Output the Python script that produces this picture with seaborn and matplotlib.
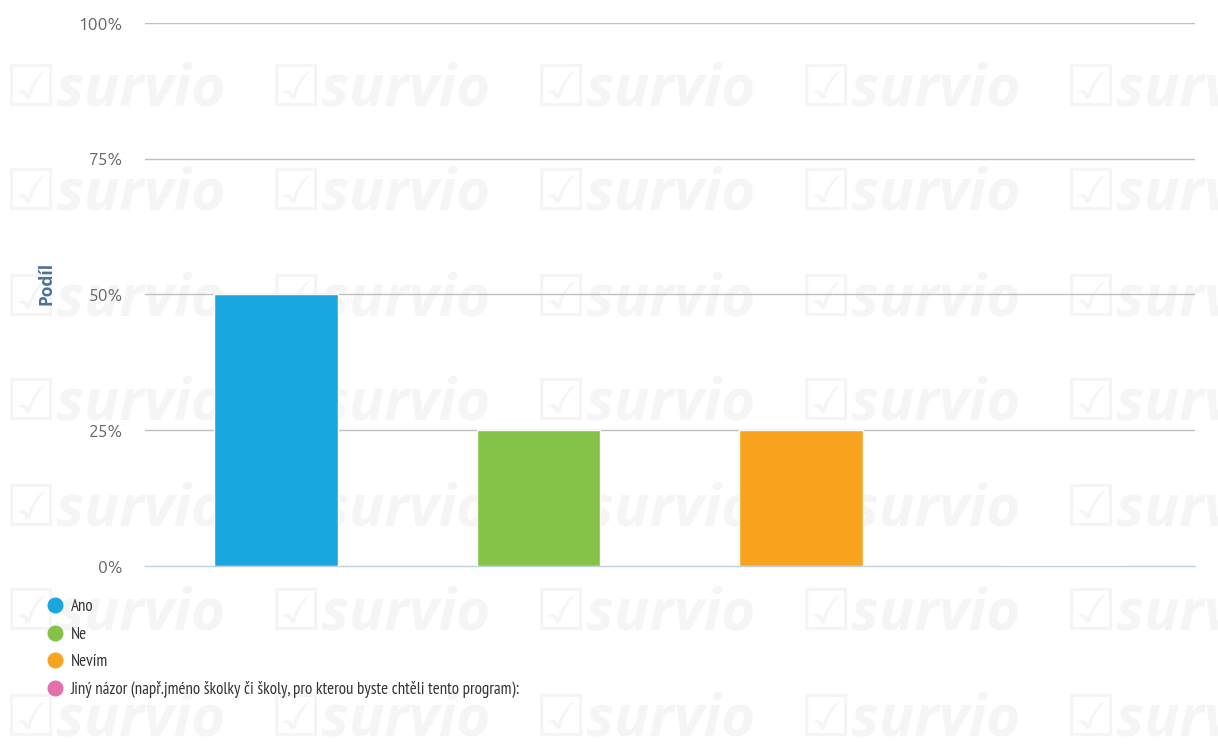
import matplotlib
matplotlib.use('Agg')
import matplotlib.pyplot as plt
from matplotlib.lines import Line2D
from matplotlib.ticker import FixedLocator
import pandas as pd
import seaborn as sns

# data
categories = ['Ano', 'Ne', 'Nevím',
              'Jiný názor (např.jméno školky či školy, pro kterou byste chtěli tento program):']
shares = [50, 25, 25, 0]
colors = ['#1aa7df', '#86c148', '#f9a41e', '#e36fac']
y_ticks = [0, 25, 50, 75, 100]
y_tick_labels = ['0%', '25%', '50%', '75%', '100%']

df = pd.DataFrame({'odpoved': categories, 'podil': shares})

sns.set_style('white')
plt.rcParams['font.family'] = ['Ubuntu', 'DejaVu Sans']

fig = plt.figure(figsize=(12.18, 7.53), dpi=100)
ax = fig.add_axes([0.119, 0.2483, 0.862, 0.7212])
ax.patch.set_facecolor('none')

# faint "survio" watermark behind everything
for row in range(8):
    for col in range(5):
        fig.text((5 + col * 265) / 1218, 1 - (90 + row * 105) / 753,
                 '\u2611survio', fontsize=42, style='italic', fontweight='bold',
                 color='#f5f5f5', va='center', ha='left', zorder=-5,
                 family=['Open Sans', 'DejaVu Sans'])

sns.barplot(data=df, x='odpoved', y='podil', hue='odpoved', palette=colors,
            width=0.47, dodge=False, legend=False, saturation=1, ax=ax, zorder=3)

ax.set_ylim(0, 100)
ax.set_xlim(-0.5, len(categories) - 0.5)
ax.yaxis.set_major_locator(FixedLocator(y_ticks))
ax.set_yticklabels(y_tick_labels, fontsize=12.5, color='#666666')
ax.tick_params(axis='y', length=0, pad=16)

# category ticks under the axis, no labels
ax.set_xticks(range(len(categories)))
ax.set_xticklabels([''] * len(categories))
ax.tick_params(axis='x', length=8, width=1, color='#c0d0e0', direction='out')

for v in y_ticks[1:]:
    ax.axhline(v, color='#c0c0c0', lw=1, zorder=1)
for s in ['top', 'right', 'left']:
    ax.spines[s].set_visible(False)
ax.spines['bottom'].set_color('#c0d0e0')
ax.spines['bottom'].set_linewidth(1)

ax.set_xlabel('')
ax.set_ylabel('Podíl', fontsize=12.5, fontweight='bold', color='#4d7199',
              family=['Open Sans', 'DejaVu Sans'])
ax.yaxis.set_label_coords(-0.085, 0.52)

handles = [Line2D([0], [0], marker='o', linestyle='', markersize=10.5,
                  markerfacecolor=c, markeredgecolor=c) for c in colors]
fig.legend(handles, categories, loc='upper left', bbox_to_anchor=(0.026, 0.213),
           frameon=False, handletextpad=-0.1, labelspacing=0.66, borderaxespad=0,
           prop={'family': ['PT Sans Narrow', 'DejaVu Sans'], 'size': 12.2},
           labelcolor='#333333')

plt.savefig('out.png', dpi=100)
